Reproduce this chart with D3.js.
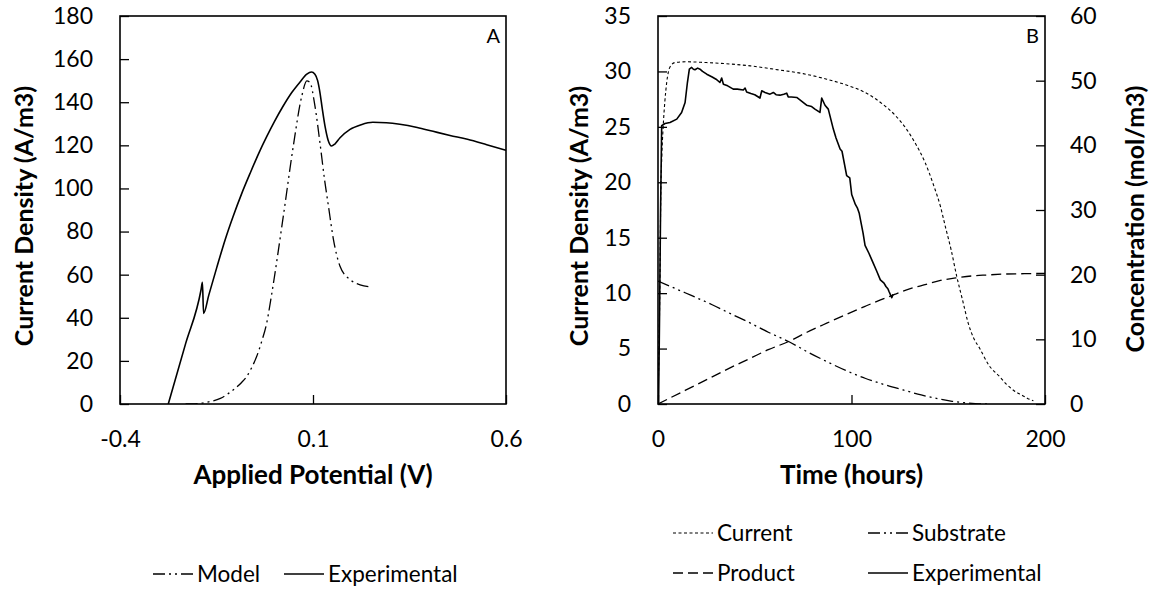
<!DOCTYPE html>
<html><head><meta charset="utf-8">
<script src="https://cdn.jsdelivr.net/npm/d3@7"></script>
<style>
body{margin:0;background:#fff}
svg{display:block}
text{font-family:Lato,'Open Sans',sans-serif;fill:#000}
</style>
</head><body>
<svg id="c" width="1157" height="590"></svg>
<script>
// ---------- Panel A data ----------
const potentialExp = [-0.275,-0.23,-0.19,-0.1865,-0.1835,-0.17,-0.149,-0.128,-0.107,-0.085,-0.063,-0.04,-0.02,0,0.022,0.045,0.066,0.084,0.096,0.105,0.112,0.118,0.124,0.131,0.139,0.148,0.156,0.17,0.196,0.225,0.255,0.29,0.325,0.37,0.411,0.455,0.5,0.55,0.6];
const currentExpA  = [0,28,53,56.5,42,50.5,63.5,76,87,97.5,107,116.5,124,131,138,144.5,149.3,153,154,153,150,144.5,137,129,122.5,119.7,120.5,123.5,127.4,129.6,130.7,130.5,129.8,128.3,126.5,124.6,122.8,120.3,117.7];
const potentialModel = [-0.23,-0.2,-0.17,-0.14,-0.107,-0.085,-0.072,-0.06,-0.046,-0.033,-0.02,-0.007,0.023,0.049,0.071,0.084,0.092,0.105,0.118,0.13,0.14,0.153,0.17,0.196,0.222,0.252];
const currentModelA  = [0,0.2,1.0,2.6,6.5,10,12.7,16.5,22,29,37.5,51,87,119.7,142.9,149.9,149.2,138.3,121.2,104,91.8,76.3,63.9,57.7,55.3,54.3];
const xTicksA = [-0.4,0.1,0.6];
const xTickLabelsA = ["-0.4","0.1","0.6"];
const yTicksA = [0,20,40,60,80,100,120,140,160,180];

// ---------- Panel B data ----------
const timeCurrent = [0,0.5,1.0,1.4,2.0,2.7,3.5,4.5,6.2,8.8,14.5,25,35,47.7,60,75,87.2,97,107,115,122.8,128,132.7,138,142.5,146,148.5,151.5,154.4,157.5,160.3,163,166.3,171,176.4,180,184,188,191,194];
const currentModelB = [0,5,11,18.4,22.5,25.1,27.2,29.0,30.4,30.8,30.87,30.8,30.7,30.5,30.2,29.8,29.3,28.8,28.1,27.2,26.0,24.9,23.6,21.8,19.7,17.8,16.0,13.9,11.5,9.3,7.3,6.0,5.0,3.5,2.5,1.8,1.2,0.8,0.5,0.3];
const timeExp = [0.3,0.8,1.3,1.9,3.6,6.2,9.7,12.2,14,15.2,16.2,17.4,18.3,19.1,20.5,21.7,23,25.2,28,30,32,32.9,33.8,36,38.9,41,44.1,45,45.8,48,50,52.7,53.6,55.3,57.9,59.6,61,63,65,66.5,67.3,69,71.7,74,76.8,79.4,81.1,83.7,84.6,86.3,88,90.6,92,94.1,95.1,97.5,99.1,100.1,102,103,104,105,106,107,109,111,113,114.9,116.8,117.8,118.8,119.5,120.8,121.5];
const currentExpB = [0,8,17,25.1,25.3,25.4,25.7,26.3,27.2,29.0,30.2,30.36,30.2,30.15,30.3,30.2,30.0,29.75,29.5,29.3,29.0,29.4,28.85,28.7,28.4,28.4,28.33,28.5,28.15,28.0,27.9,27.6,28.25,28.1,27.95,28.1,27.9,27.86,27.95,28.04,27.7,27.7,27.65,27.35,26.95,26.83,26.6,26.3,27.6,26.95,26.6,24.8,24.0,23.0,22.8,20.6,20.4,18.9,18.0,17.7,17.2,16.3,15.4,14.3,13.6,12.8,12.0,11.2,10.9,10.6,10.4,10.1,9.6,9.9];
const timeSubstrate = [0,14,28,38,47.8,57,67.5,77,87.2,97,107,117,126.7,136,146.5,152,158.3,164,170];
const substrateConc = [19.0,17.2,15.35,13.9,12.5,11.1,9.66,8.1,6.56,5.2,3.98,3.0,2.17,1.4,0.72,0.42,0.2,0.07,0];
const timeProduct = [0,14,28,38,47.8,57,67.5,77,87.2,97,107,115,122.8,130,138.6,146,154,162,170,180,190,200];
const productConc = [0,2.1,4.2,5.7,7.08,8.4,9.66,11.1,12.5,13.8,15.1,16.1,17.0,17.8,18.5,19.1,19.5,19.8,19.95,20.1,20.15,20.2];
const xTicksB = [0,100,200];
const yTicksBLeft = [0,5,10,15,20,25,30,35];
const yTicksBRight = [0,10,20,30,40,50,60];

// ---------- styles ----------
const FS = 23;      // tick labels
const FL = 22.5;    // legend
const FT = 26;      // x titles
const FY = 25;      // y titles
const styles = {
  model:   {dash:"12,4,2,4,2,4", w:1.3},
  exp:     {dash:null, w:1.6},
  current: {dash:"3,2.5", w:1.1},
  product: {dash:"10,5", w:1.3},
  substrate:{dash:"12,4,2,4,2,4", w:1.3}
};

const svg = d3.select('#c');
svg.append('rect').attr('width',1157).attr('height',590).attr('fill','#fff');

function zip(a,b){return a.map((v,i)=>[v,b[i]]);}

function drawLine(g, pts, x, y, st, curve){
  g.append('path').datum(pts)
   .attr('fill','none').attr('stroke','#000')
   .attr('stroke-width',st.w)
   .attr('stroke-dasharray',st.dash)
   .attr('stroke-linejoin','round')
   .attr('d', d3.line().x(d=>x(d[0])).y(d=>y(d[1])).curve(curve||d3.curveLinear));
}

function styleAxis(g){
  g.select('.domain').remove();
  g.selectAll('line').attr('stroke','#000').attr('stroke-width',1.3);
  g.selectAll('text').attr('font-size',FS).attr('font-family','Lato, sans-serif').attr('fill','#000');
}

function legendItem(x, y, st, label){
  svg.append('line').attr('x1',x).attr('x2',x+40).attr('y1',y).attr('y2',y)
    .attr('stroke','#000').attr('stroke-width',st.w).attr('stroke-dasharray',st.dash);
  svg.append('text').attr('x',x+44).attr('y',y).attr('dy','0.35em').attr('font-size',FL).text(label);
}

// ---------- Panel A ----------
{
  const L=120,R=506,T=16,B=404;
  const x = d3.scaleLinear().domain([-0.4,0.6]).range([L,R]);
  const y = d3.scaleLinear().domain([0,180]).range([B,T]);
  const g = svg.append('g');
  svg.append('clipPath').attr('id','clipA').append('rect').attr('x',L).attr('y',T).attr('width',R-L).attr('height',B-T);
  const gl = g.append('g').attr('clip-path','url(#clipA)');
  drawLine(gl, zip(potentialModel,currentModelA), x, y, styles.model, d3.curveMonotoneX);
  drawLine(gl, zip(potentialExp,currentExpA), x, y, styles.exp, d3.curveMonotoneX);
  g.append('g').attr('transform',`translate(${L},0)`)
    .call(d3.axisLeft(y).tickValues(yTicksA).tickSizeInner(-9).tickSizeOuter(0).tickPadding(27).tickFormat(d3.format('d')))
    .call(styleAxis);
  g.append('g').attr('transform',`translate(0,${B})`)
    .call(d3.axisBottom(x).tickValues(xTicksA).tickSizeInner(-9).tickSizeOuter(0).tickPadding(27).tickFormat((d,i)=>xTickLabelsA[i]))
    .call(styleAxis);
  g.append('rect').attr('x',L).attr('y',T).attr('width',R-L).attr('height',B-T)
    .attr('fill','none').attr('stroke','#000').attr('stroke-width',1.6);
  g.append('text').attr('x',R-6).attr('y',T+27).attr('text-anchor','end').attr('font-size',20).text('A');
  g.append('text').attr('x',(L+R)/2).attr('y',484).attr('text-anchor','middle')
    .attr('font-size',FT).attr('font-weight','bold').text('Applied Potential (V)');
  g.append('text').attr('transform',`translate(33,216) rotate(-90)`).attr('text-anchor','middle')
    .attr('font-size',FY).attr('font-weight','bold').text('Current Density (A/m3)');
  legendItem(153, 574, styles.model, 'Model');
  legendItem(284, 574, styles.exp, 'Experimental');
}

// ---------- Panel B ----------
{
  const L=658,R=1045,T=16,B=404;
  const x = d3.scaleLinear().domain([0,200]).range([L,R]);
  const y = d3.scaleLinear().domain([0,35]).range([B,T]);
  const y2 = d3.scaleLinear().domain([0,60]).range([B,T]);
  const g = svg.append('g');
  svg.append('clipPath').attr('id','clipB').append('rect').attr('x',L).attr('y',T).attr('width',R-L).attr('height',B-T);
  const gl = g.append('g').attr('clip-path','url(#clipB)');
  drawLine(gl, zip(timeSubstrate,substrateConc), x, y2, styles.substrate, d3.curveMonotoneX);
  drawLine(gl, zip(timeProduct,productConc), x, y2, styles.product, d3.curveMonotoneX);
  drawLine(gl, zip(timeCurrent,currentModelB), x, y, styles.current, d3.curveMonotoneX);
  drawLine(gl, zip(timeExp,currentExpB), x, y, styles.exp, d3.curveLinear);
  g.append('g').attr('transform',`translate(${L},0)`)
    .call(d3.axisLeft(y).tickValues(yTicksBLeft).tickSizeInner(-9).tickSizeOuter(0).tickPadding(27).tickFormat(d3.format('d')))
    .call(styleAxis);
  g.append('g').attr('transform',`translate(${R},0)`)
    .call(d3.axisRight(y2).tickValues(yTicksBRight).tickSizeInner(-9).tickSizeOuter(0).tickPadding(25).tickFormat(d3.format('d')))
    .call(styleAxis);
  g.append('g').attr('transform',`translate(0,${B})`)
    .call(d3.axisBottom(x).tickValues(xTicksB).tickSizeInner(-9).tickSizeOuter(0).tickPadding(27).tickFormat(d3.format('d')))
    .call(styleAxis);
  g.append('rect').attr('x',L).attr('y',T).attr('width',R-L).attr('height',B-T)
    .attr('fill','none').attr('stroke','#000').attr('stroke-width',1.6);
  g.append('text').attr('x',R-6).attr('y',T+27).attr('text-anchor','end').attr('font-size',20).text('B');
  g.append('text').attr('x',(L+R)/2).attr('y',484).attr('text-anchor','middle')
    .attr('font-size',FT).attr('font-weight','bold').text('Time (hours)');
  g.append('text').attr('transform',`translate(588,216) rotate(-90)`).attr('text-anchor','middle')
    .attr('font-size',FY).attr('font-weight','bold').text('Current Density (A/m3)');
  g.append('text').attr('transform',`translate(1144,219) rotate(-90)`).attr('text-anchor','middle')
    .attr('font-size',FY).attr('font-weight','bold').text('Concentration (mol/m3)');
  legendItem(673, 533, styles.current, 'Current');
  legendItem(868, 533, styles.substrate, 'Substrate');
  legendItem(673, 573, styles.product, 'Product');
  legendItem(868, 573, styles.exp, 'Experimental');
}
</script>
</body></html>
